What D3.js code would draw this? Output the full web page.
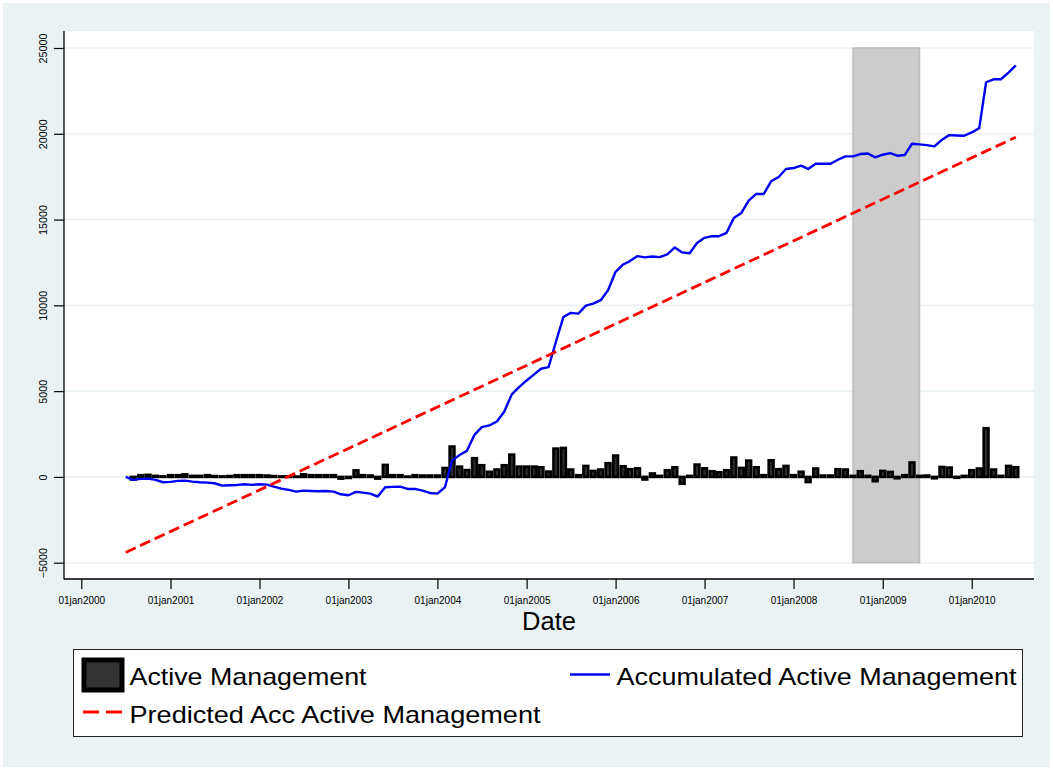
<!DOCTYPE html>
<html><head><meta charset="utf-8">
<script src="https://cdn.jsdelivr.net/npm/d3@7"></script>
<style>
body{margin:0;background:#fff}
svg{display:block}
text{font-family:"Liberation Sans",Arial,Helvetica,sans-serif;fill:#000}
</style>
</head><body>
<svg id="chart" width="1053" height="770"></svg>
<script>
// ---------------- DATA ----------------
const accStartMonth = [2000, 7];   // first month of the accumulated / predicted series
const barStartMonth = [2000, 8];   // first month of the monthly bars

// Active Management (monthly bars, Aug 2000 .. Jul 2010)
const activeManagement = [
  -150, 100, 120, 60, 30,
  100, 100, 150, 60, 60, 100, 50, 30, 50, 100, 100, 100,
  100, 80, 50, 30, 30, 20, 150, 100, 100, 100, 100, -100,
  -60, 380, 100, 80, -100, 700, 100, 100, 20, 100, 80, 80,
  80, 520, 1770, 600, 400, 1090, 680, 300, 430, 680, 1300, 600,
  600, 600, 560, 310, 1650, 1690, 430, 100, 640, 350, 430, 800,
  1245, 620, 450, 500, -150, 200, 60, 390, 560, -400, 60, 720,
  500, 330, 270, 390, 1130, 525, 950, 560, 100, 970, 450, 640,
  100, 300, -300, 490, 80, 80, 450, 430, 60, 330, 60, -250,
  350, 290, -80, 100, 840, 60, 80, -80, 580, 545, -50, 60,
  390, 490, 2840, 430, 60, 640, 565
];

// Accumulated Active Management (monthly line, Jul 2000 .. Jul 2010)
const accumulated = [
  0, -175, -117, -97, -175, -311,
  -290, -233, -214, -272, -311, -330, -370, -505, -486, -467, -428, -467,
  -428, -447, -564, -680, -758, -856, -797, -817, -836, -817, -856, -1011,
  -1070, -875, -914, -972, -1148, -603, -583, -564, -700, -700, -797, -934,
  -972, -600, 950, 1280, 1520, 2450, 2900, 3000, 3230, 3800, 4810, 5234,
  5623, 5974, 6306, 6400, 7864, 9325, 9559, 9520, 9987, 10104, 10300, 10883,
  11955, 12383, 12578, 12870, 12793, 12850, 12812, 12968, 13377, 13085, 13040, 13630,
  13934, 14031, 14031, 14225, 15097, 15388, 16105, 16492, 16492, 17229, 17480, 17946,
  18004, 18140, 17946, 18256, 18256, 18256, 18488, 18682, 18682, 18820, 18850, 18624,
  18779, 18876, 18721, 18760, 19419, 19380, 19341, 19264, 19651, 19922, 19903, 19884,
  20078, 20329, 23004, 23178, 23178, 23566, 23992
];

// Predicted Acc Active Management (straight fitted line: first and last month)
const predictedMonths = [[2000, 7], [2010, 7]];
const predicted = [-4400, 19800];

// Shaded period (start month, end month)
const shadedMonths = [[2008, 9], [2009, 6]];
const shadedRange = [-5000, 25000];

const yTicks = [-5000, 0, 5000, 10000, 15000, 20000, 25000];
const xTickLabels = ["01jan2000","01jan2001","01jan2002","01jan2003","01jan2004","01jan2005",
                     "01jan2006","01jan2007","01jan2008","01jan2009","01jan2010"];
const legendLabels = ["Active Management", "Accumulated Active Management", "Predicted Acc Active Management"];
const xTitle = "Date";

// ---------------- LAYOUT ----------------
const W = 1053, H = 770;
const plot = {left: 64, right: 1034, top: 31, bottom: 579};
const toDate = ([yy, mm]) => new Date(Date.UTC(yy, mm - 1, 1));
const monthSeq = (start, n) => d3.range(n).map(i => new Date(Date.UTC(start[0], start[1] - 1 + i, 1)));

const accDates = monthSeq(accStartMonth, accumulated.length);
const barDates = monthSeq(barStartMonth, activeManagement.length);
const tickDates = xTickLabels.map(s => new Date(Date.UTC(+s.slice(5), 0, 1)));

const x = d3.scaleUtc()
  .domain([tickDates[0], tickDates[tickDates.length - 1]])
  .range([81.3, 971.7]);
const y = d3.scaleLinear().domain([-5000, 25000]).range([562.7, 48]);

const svg = d3.select("#chart");

// backgrounds
svg.append("rect").attr("width", W).attr("height", H).attr("fill", "#ffffff");
svg.append("rect").attr("x", 3).attr("y", 3).attr("width", W - 6).attr("height", H - 6).attr("fill", "#eaf2f3");
svg.append("rect").attr("x", plot.left).attr("y", plot.top)
  .attr("width", plot.right - plot.left).attr("height", plot.bottom - plot.top).attr("fill", "#ffffff");

// gridlines
svg.append("g").selectAll("line").data(yTicks).join("line")
  .attr("x1", plot.left).attr("x2", plot.right)
  .attr("y1", d => y(d)).attr("y2", d => y(d))
  .attr("stroke", "#eaf2f3").attr("stroke-width", 1.6);

// shaded band
svg.append("rect")
  .attr("x", x(toDate(shadedMonths[0])))
  .attr("width", x(toDate(shadedMonths[1])) - x(toDate(shadedMonths[0])))
  .attr("y", y(shadedRange[1]))
  .attr("height", y(shadedRange[0]) - y(shadedRange[1]))
  .attr("fill", "#cccccc").attr("stroke", "#bdbdbd").attr("stroke-width", 1.5);

// bars
const bw = 4.8;
svg.append("g").selectAll("rect").data(activeManagement).join("rect")
  .attr("x", (d, i) => x(barDates[i]) - bw / 2)
  .attr("width", bw)
  .attr("y", d => Math.min(y(d), y(0)))
  .attr("height", d => Math.abs(y(d) - y(0)))
  .attr("fill", "#2a2a2a").attr("stroke", "#000").attr("stroke-width", 2.6);

// accumulated line
svg.append("path")
  .datum(accumulated)
  .attr("d", d3.line().x((d, i) => x(accDates[i])).y(d => y(d)))
  .attr("fill", "none").attr("stroke", "#0000f4").attr("stroke-width", 2.4)
  .attr("stroke-linejoin", "round");

// predicted line
svg.append("path")
  .datum(predicted)
  .attr("d", d3.line().x((d, i) => x(toDate(predictedMonths[i]))).y(d => y(d)))
  .attr("fill", "none").attr("stroke", "#ff0000").attr("stroke-width", 2.8)
  .attr("stroke-dasharray", "11,5");

// axes
const xAxis = svg.append("g").attr("transform", `translate(0,${plot.bottom})`)
  .call(d3.axisBottom(x).tickValues(tickDates).tickFormat((d, i) => xTickLabels[i]).tickSize(10).tickPadding(16));
xAxis.select(".domain").remove();
xAxis.selectAll(".tick line").attr("stroke", "#000").attr("stroke-width", 1.2);
xAxis.selectAll(".tick text").attr("font-size", 10).attr("dy", null).attr("y", 25)
  .style("font-family", '"Liberation Sans",Arial,sans-serif');

const yAxis = svg.append("g").attr("transform", `translate(${plot.left},0)`)
  .call(d3.axisLeft(y).tickValues(yTicks).tickFormat(d3.format("d")).tickSize(10));
yAxis.select(".domain").remove();
yAxis.selectAll(".tick line").attr("stroke", "#000").attr("stroke-width", 1.2);
yAxis.selectAll(".tick text")
  .attr("x", null).attr("dy", null).attr("text-anchor", "middle")
  .attr("font-size", 10.8)
  .attr("transform", "translate(-17,0) rotate(-90)")
  .style("font-family", '"Liberation Sans",Arial,sans-serif');

svg.append("line").attr("x1", plot.left).attr("x2", plot.left).attr("y1", plot.top).attr("y2", plot.bottom + 0.6)
  .attr("stroke", "#000").attr("stroke-width", 1.3);
svg.append("line").attr("x1", plot.left).attr("x2", plot.right).attr("y1", plot.bottom).attr("y2", plot.bottom)
  .attr("stroke", "#000").attr("stroke-width", 1.3);

// x title
svg.append("text").attr("x", (plot.left + plot.right) / 2).attr("y", 629.5)
  .attr("text-anchor", "middle").attr("font-size", 25.5).text(xTitle);

// legend
const lg = svg.append("g");
lg.append("rect").attr("x", 73.5).attr("y", 649.5).attr("width", 949).attr("height", 87)
  .attr("fill", "#fff").attr("stroke", "#222").attr("stroke-width", 1);
lg.append("rect").attr("x", 84).attr("y", 660).attr("width", 38).attr("height", 30)
  .attr("fill", "#333").attr("stroke", "#000").attr("stroke-width", 5);
lg.append("text").attr("x", 129.5).attr("y", 685).attr("font-size", 24)
  .attr("textLength", 237).attr("lengthAdjust", "spacingAndGlyphs").text(legendLabels[0]);
lg.append("line").attr("x1", 570).attr("x2", 610).attr("y1", 674.5).attr("y2", 674.5)
  .attr("stroke", "#0000f4").attr("stroke-width", 2.4);
lg.append("text").attr("x", 616.5).attr("y", 685).attr("font-size", 24)
  .attr("textLength", 400).attr("lengthAdjust", "spacingAndGlyphs").text(legendLabels[1]);
lg.append("line").attr("x1", 83).attr("x2", 123).attr("y1", 712).attr("y2", 712)
  .attr("stroke", "#ff0000").attr("stroke-width", 2.8).attr("stroke-dasharray", "16,7");
lg.append("text").attr("x", 129.5).attr("y", 722.5).attr("font-size", 24)
  .attr("textLength", 411).attr("lengthAdjust", "spacingAndGlyphs").text(legendLabels[2]);
</script>
</body></html>
